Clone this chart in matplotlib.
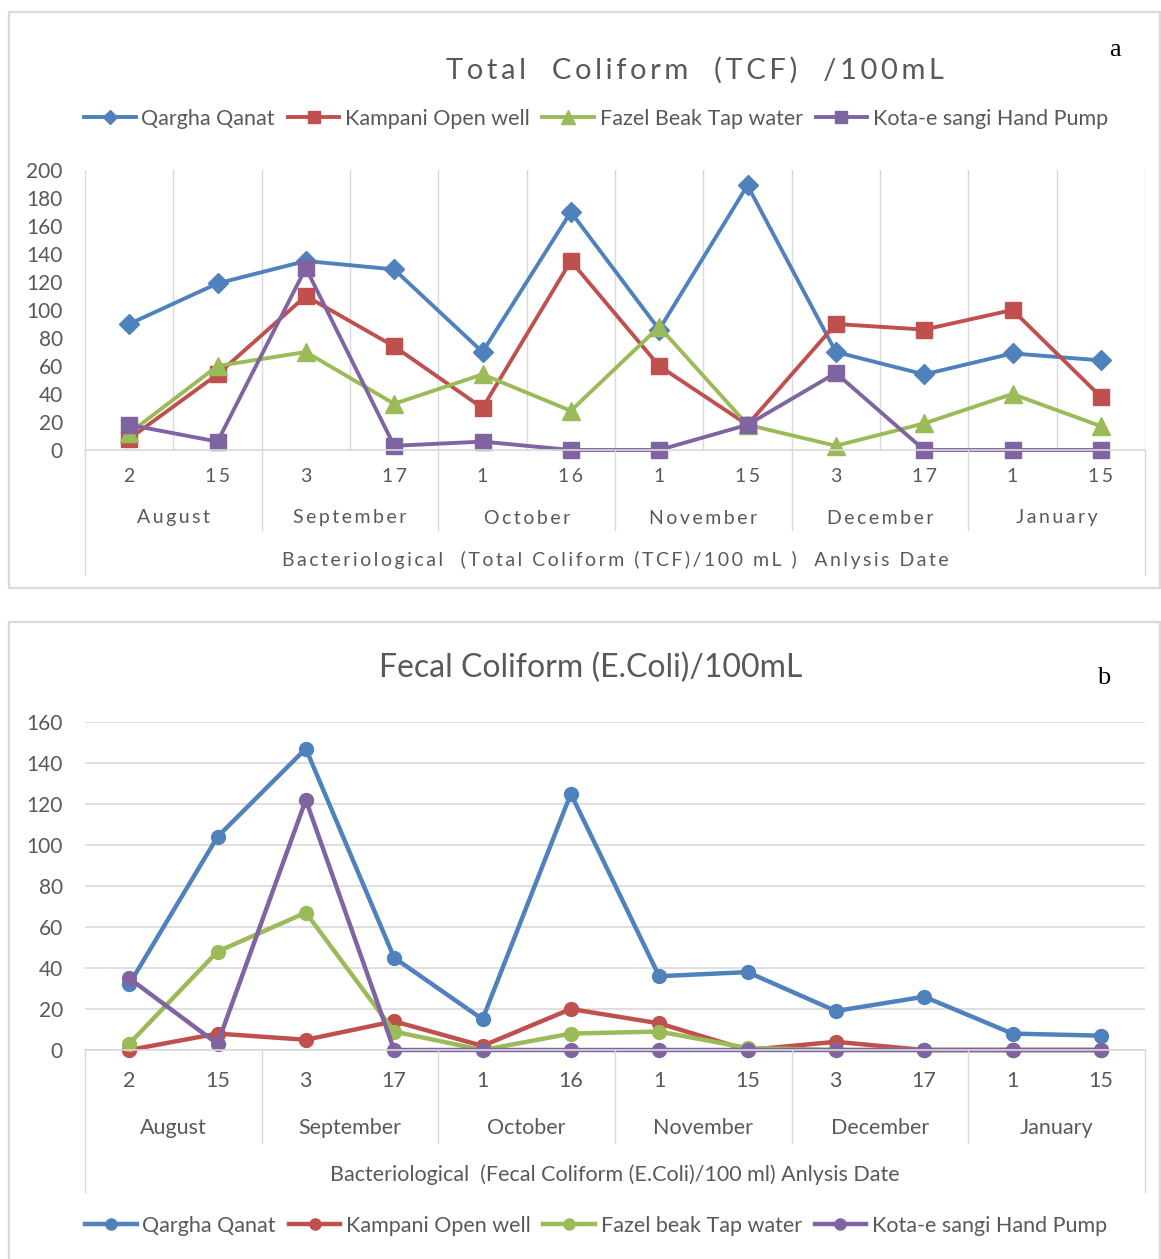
import matplotlib
matplotlib.use("Agg")
import matplotlib.pyplot as plt
import matplotlib.transforms as mtransforms
from matplotlib.patches import Rectangle
from matplotlib.lines import Line2D

plt.rcParams['font.family'] = ['Lato', 'DejaVu Sans']

days = ['2', '15', '3', '17', '1', '16', '1', '15', '3', '17', '1', '15']
months = ['August', 'September', 'October', 'November', 'December', 'January']
sites_top = ['Qargha Qanat', 'Kampani Open well', 'Fazel Beak Tap water', 'Kota-e sangi Hand Pump']
sites_bottom = ['Qargha Qanat', 'Kampani Open well', 'Fazel beak Tap water', 'Kota-e sangi Hand Pump']

tcf_qargha = [90, 119, 135, 129, 70, 170, 86, 189, 70, 54, 69, 64]
tcf_kampani = [8, 54, 110, 74, 30, 135, 60, 18, 90, 86, 100, 38]
tcf_fazel = [12, 60, 70, 33, 54, 28, 88, 18, 3, 19, 40, 17]
tcf_kota = [18, 6, 130, 3, 6, 0, 0, 18, 55, 0, 0, 0]

ecoli_qargha = [32, 104, 147, 45, 15, 125, 36, 38, 19, 26, 8, 7]
ecoli_kampani = [0, 8, 5, 14, 2, 20, 13, 0, 4, 0, 0, 0]
ecoli_fazel = [3, 48, 67, 9, 0, 8, 9, 1, 0, 0, 0, 0]
ecoli_kota = [35, 3, 122, 0, 0, 0, 0, 0, 0, 0, 0, 0]

colors = ['#4F81BD', '#C0504D', '#9BBB59', '#8064A2']
text_col = '#595959'
grid_col = '#d9d9d9'

W, H = 1161, 1259
fig = plt.figure(figsize=(W / 100, H / 100), dpi=100)


def fy(py):
    return 1 - py / H


def spaced(s, sp='\u2009'):
    return sp.join(s)


# panel frames
fig.patches.append(Rectangle((9 / W, fy(588)), (1160 - 9) / W, (588 - 12) / H,
                             transform=fig.transFigure, fill=False, ec=grid_col, lw=1.6))
fig.patches.append(Rectangle((9 / W, fy(1262)), (1160 - 9) / W, (1262 - 622) / H,
                             transform=fig.transFigure, fill=False, ec=grid_col, lw=1.6))

x = list(range(len(days)))
ax_bottom_px = {}


def category_axis(ax, y_day, y_month, y_line_month, y_line_outer, y_label, label, spacing, fs):
    tr = mtransforms.blended_transform_factory(ax.transData, fig.transFigure)
    for i, d in enumerate(days):
        ax.text(i, fy(y_day), spacing(d), transform=tr, ha='center', va='center',
                fontsize=fs, color=text_col)
    for m, name in enumerate(months):
        ax.text(2 * m + 0.5, fy(y_month), spacing(name), transform=tr, ha='center', va='center',
                fontsize=fs, color=text_col)
    for b in [1.5, 3.5, 5.5, 7.5, 9.5]:
        ax.plot([b, b], [fy(ax_bottom_px[ax]), fy(y_line_month)], transform=tr,
                color=grid_col, lw=1, clip_on=False)
    for b in [-0.5, 11.5]:
        ax.plot([b, b], [fy(ax_bottom_px[ax]), fy(y_line_outer)], transform=tr,
                color=grid_col, lw=1, clip_on=False)
    ax.text(5.5, fy(y_label), label, transform=tr, ha='center', va='center',
            fontsize=fs, color=text_col)


# ---- top chart ----
ax1 = fig.add_axes([85 / W, fy(450), (1145 - 85) / W, (450 - 170) / H])
ax_bottom_px[ax1] = 450
markers_top = ['D', 's', '^', 's']
msize_top = [10, 12, 13, 12]
for vals, c, mk, ms, lab in zip([tcf_qargha, tcf_kampani, tcf_fazel, tcf_kota],
                                colors, markers_top, msize_top, sites_top):
    ax1.plot(x, vals, color=c, lw=2.8, marker=mk, ms=ms, label=lab, clip_on=False)
ax1.set_xlim(-0.5, 11.5)
ax1.set_ylim(0, 200)
ax1.set_yticks(range(0, 201, 20))
ax1.set_xticks([])
ax1.set_xticks([i + 0.5 for i in range(-1, 12)], minor=True)
ax1.tick_params(axis='x', which='both', length=0, labelbottom=False)
ax1.grid(axis='x', which='minor', color=grid_col, lw=1)
ax1.tick_params(axis='y', length=0, labelsize=15, labelcolor=text_col, pad=16)
for s in ['top', 'right', 'left']:
    ax1.spines[s].set_visible(False)
ax1.spines['bottom'].set_color(grid_col)
ax1.spines['bottom'].set_linewidth(1.2)
category_axis(ax1, 477, 518, 530, 575, 560,
              spaced('Bacteriological  (Total Coliform (TCF)/100 mL )  Anlysis Date'), spaced, 14)
fig.text(695 / W, fy(70), spaced('Total  Coliform  (TCF)  /100mL'), ha='center',
         va='center', fontsize=21, color=text_col)
handles1 = [Line2D([], [], color=c, lw=2.8, marker=mk, ms=ms * 0.75)
            for c, mk, ms in zip(colors, markers_top, msize_top)]
fig.legend(handles1, sites_top, ncol=4, loc='center', bbox_to_anchor=(596 / W, fy(119)),
           frameon=False, fontsize=15.5, handlelength=2.4, handletextpad=0.25,
           columnspacing=0.6, labelcolor=text_col)
fig.text(1115 / W, fy(50), 'a', family='Liberation Serif', fontsize=19, ha='center',
         va='center', color='black')

# ---- bottom chart ----
ax2 = fig.add_axes([85 / W, fy(1050), (1145 - 85) / W, (1050 - 722) / H])
ax_bottom_px[ax2] = 1050
for vals, c, lab in zip([ecoli_qargha, ecoli_kampani, ecoli_fazel, ecoli_kota], colors, sites_bottom):
    ax2.plot(x, vals, color=c, lw=3.2, marker='o', ms=10, label=lab, clip_on=False)
ax2.set_xlim(-0.5, 11.5)
ax2.set_ylim(0, 160)
ax2.set_yticks(range(0, 161, 20))
ax2.set_xticks([])
ax2.grid(axis='y', color=grid_col, lw=1.2)
ax2.set_axisbelow(True)
ax2.tick_params(axis='y', length=0, labelsize=15, labelcolor=text_col, pad=16)
for s in ['top', 'right', 'left']:
    ax2.spines[s].set_visible(False)
ax2.spines['bottom'].set_color(grid_col)
ax2.spines['bottom'].set_linewidth(1.2)
category_axis(ax2, 1081, 1128, 1143, 1192, 1175,
              'Bacteriological  (Fecal Coliform (E.Coli)/100 ml) Anlysis Date', lambda s: s, 15.5)
fig.text(591 / W, fy(668), 'Fecal Coliform (E.Coli)/100mL', ha='center', va='center',
         fontsize=23, color=text_col)
handles2 = [Line2D([], [], color=c, lw=3.2, marker='o', ms=8) for c in colors]
fig.legend(handles2, sites_bottom, ncol=4, loc='center', bbox_to_anchor=(596 / W, fy(1226)),
           frameon=False, fontsize=15.5, handlelength=2.4, handletextpad=0.25,
           columnspacing=0.6, labelcolor=text_col)
fig.text(1104 / W, fy(678), 'b', family='Liberation Serif', fontsize=19, ha='center',
         va='center', color='black')

fig.savefig('out.png', dpi=100)
